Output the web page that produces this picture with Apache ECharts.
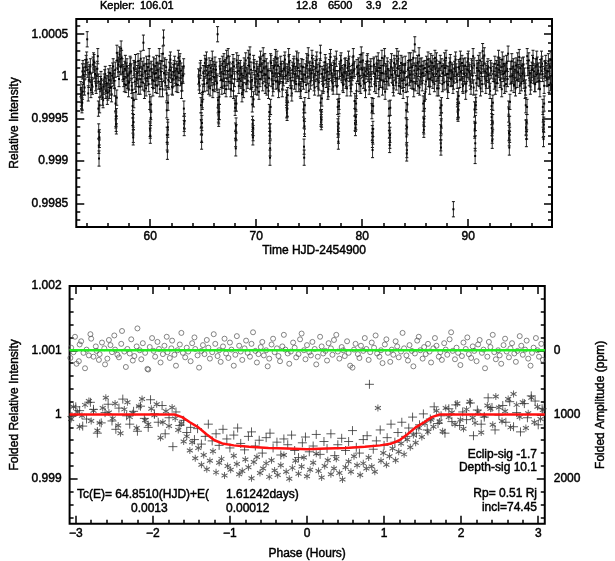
<!DOCTYPE html>
<html><head><meta charset="utf-8">
<script src="https://cdn.jsdelivr.net/npm/echarts@6/dist/echarts.min.js"></script>
<style>html,body{margin:0;padding:0;background:#fff}#c{width:615px;height:561px}</style>
</head><body><div id="c"></div>
<script>
// ---------------- DATA ----------------
const headerLabels = ['Kepler:', '106.01', '12.8', '6500', '3.9', '2.2'];

// Light curve [time HJD-2454900, relative intensity]
const lightCurveSeg1 = [
[53.46,0.99985],[53.56,0.99970],[53.66,1.00010],[53.76,0.99991],[53.86,1.00006],[53.96,1.00016],[54.06,1.00044],[54.16,0.99980],[54.26,1.00003],[54.36,1.00012],
[54.46,0.99995],[54.56,0.99988],[54.66,1.00019],[54.76,1.00007],[54.86,0.99992],[54.96,1.00001],[55.06,1.00024],[55.16,0.99918],[55.26,0.99985],[55.36,0.99997],
[55.46,0.99982],[55.56,0.99972],[55.66,0.99994],[55.76,1.00003],[55.86,0.99989],[55.96,0.99976],[56.06,1.00000],[56.16,0.99983],[56.26,0.99995],[56.36,0.99979],
[56.46,1.00007],[56.56,0.99998],[56.66,0.99986],[56.76,0.99948],[56.86,1.00028],[56.96,1.00009],[57.06,0.99997],[57.16,1.00021],[57.26,1.00033],[57.36,1.00012],
[57.46,1.00003],[57.56,0.99991],[57.66,1.00016],[57.76,1.00007],[57.86,0.99995],[57.96,0.99985],[58.06,1.00004],[58.16,1.00013],[58.26,0.99989],[58.36,0.99951],
[58.46,1.00010],[58.56,0.99994],[58.66,0.99982],[58.76,1.00001],[58.86,1.00018],[58.96,1.00006],[59.06,0.99988],[59.16,0.99997],[59.26,1.00009],[59.36,1.00040],
[59.46,0.99983],[59.56,0.99998],[59.66,1.00015],[59.76,1.00003],[59.86,0.99991],[59.96,1.00007],[60.06,0.99958],[60.16,1.00000],[60.26,0.99986],[60.36,0.99995],
[60.46,1.00012],[60.56,1.00004],[60.66,0.99989],[60.76,1.00006],[60.86,1.00024],[60.96,1.00010],[61.06,0.99997],[61.16,0.99985],[61.26,1.00046],[61.36,1.00013],
[61.46,0.99998],[61.56,0.99980],[61.66,0.99937],[61.76,0.99994],[61.86,1.00016],[61.96,1.00007],[62.06,0.99988],[62.16,0.99997],[62.26,1.00010],[62.36,1.00001],
[62.46,0.99991],[62.56,1.00006],[62.66,1.00022],[62.76,1.00015],[62.86,0.99998],[62.96,0.99983],[63.06,1.00003],[63.16,1.00012]
];
const lightCurveSeg1b = [
[53.51,0.99974],[53.61,1.00006],[53.71,1.00002],[53.81,0.99987],[53.91,1.00011],[54.01,1.00020],[54.11,1.00008],[54.21,0.99996],[54.31,1.00005],[54.41,0.99984],
[54.51,0.99990],[54.61,1.00014],[54.71,1.00017],[54.81,1.00003],[54.91,0.99989],[55.01,1.00009],[55.11,0.99994],[55.21,0.99925],[55.31,0.99991],[55.41,0.99986],
[55.51,0.99975],[55.61,0.99988],[55.71,0.99999],[55.81,0.99983],[55.91,0.99992],[56.01,0.99981],[56.11,0.99996],[56.21,1.00004],[56.31,0.99987],[56.41,1.00001],
[56.51,1.00012],[56.61,0.99995],[56.71,1.00008],[56.81,0.99941],[56.91,1.00019],[57.01,1.00014],[57.11,1.00026],[57.21,1.00011],[57.31,1.00022],[57.41,1.00005],
[57.51,0.99997],[57.61,1.00009],[57.71,0.99990],[57.81,1.00012],[57.91,1.00001],[58.01,0.99993],[58.11,1.00015],[58.21,1.00006],[58.31,0.99984],[58.41,0.99931],
[58.51,1.00008],[58.61,1.00017],[58.71,0.99997],[58.81,1.00004],[58.91,0.99988],[59.01,1.00010],[59.11,1.00021],[59.21,1.00002],[59.31,0.99993],[59.41,1.00013],
[59.51,1.00006],[59.61,0.99986],[59.71,0.99998],[59.81,1.00011],[59.91,1.00024],[60.01,0.99936],[60.11,1.00009],[60.21,0.99996],[60.31,1.00014],[60.41,1.00003],
[60.51,0.99990],[60.61,1.00016],[60.71,1.00008],[60.81,0.99999],[60.91,0.99985],[61.01,1.00006],[61.11,1.00018],[61.21,1.00027],[61.31,1.00004],[61.41,0.99993],
[61.51,1.00011],[61.61,0.99922],[61.71,0.99996],[61.81,1.00008],[61.91,1.00020],[62.01,1.00002],[62.11,0.99987],[62.21,1.00005],[62.31,1.00015],[62.41,0.99998],
[62.51,1.00009],[62.61,0.99990],[62.71,1.00004],[62.81,1.00018],[62.91,1.00007],[63.01,0.99992],[63.11,1.00001],[63.21,0.99944]
];
const lightCurveSeg2 = [
[64.56,1.00000],[64.66,0.99989],[64.76,1.00010],[64.86,0.99931],[64.96,0.99982],[65.06,0.99997],[65.16,1.00016],[65.26,1.00007],[65.36,0.99992],[65.46,1.00004],
[65.56,1.00013],[65.66,0.99986],[65.76,0.99998],[65.86,1.00021],[65.96,1.00009],[66.06,0.99991],[66.16,1.00003],[66.26,0.99994],[66.36,1.00050],[66.46,0.99953],
[66.56,1.00012],[66.66,1.00004],[66.76,0.99988],[66.86,0.99995],[66.96,1.00018],[67.06,1.00007],[67.16,0.99985],[67.26,0.99998],[67.36,1.00024],[67.46,1.00015],
[67.56,1.00001],[67.66,0.99992],[67.76,1.00006],[67.86,0.99983],[67.96,0.99997],[68.06,0.99926],[68.16,1.00019],[68.26,1.00003],[68.36,0.99989],[68.46,1.00007],
[68.56,0.99995],[68.66,0.99979],[68.76,1.00001],[68.86,1.00013],[68.96,1.00006],[69.06,0.99991],[69.16,1.00000],[69.26,1.00022],[69.36,1.00012],[69.46,0.99994],
[69.56,0.99985],[69.66,0.99940],[69.76,1.00016],[69.86,0.99998],[69.96,0.99988],[70.06,1.00009],[70.16,1.00003],[70.26,0.99982],[70.36,0.99997],[70.46,1.00015],
[70.56,1.00007],[70.66,1.00025],[70.76,1.00003],[70.86,0.99989],[70.96,1.00012],[71.06,1.00000],[71.16,0.99983],[71.26,0.99944],[71.36,1.00018],[71.46,0.99997],
[71.56,0.99986],[71.66,1.00010],[71.76,1.00004],[71.86,0.99994],[71.96,1.00021],[72.06,1.00013],[72.16,0.99991],[72.26,1.00001],[72.36,1.00009],[72.46,0.99985],
[72.56,0.99998],[72.66,1.00016],[72.76,1.00006],[72.86,0.99972],[72.96,1.00003],[73.06,1.00024],[73.16,1.00010],[73.26,0.99995],[73.36,0.99980],[73.46,1.00004],
[73.56,1.00015],[73.66,1.00001],[73.76,0.99991],[73.86,1.00007],[73.96,1.00019],[74.06,0.99998],[74.16,0.99985],[74.26,1.00012],[74.36,1.00003],[74.46,0.99994],
[74.56,0.99938],[74.66,1.00006],[74.76,1.00018],[74.86,1.00000],[74.96,0.99983],[75.06,1.00009],[75.16,0.99998],[75.26,1.00022],[75.36,1.00012],[75.46,0.99992],
[75.56,1.00003],[75.66,1.00015],[75.76,0.99997],[75.86,0.99986],[75.96,1.00007],[76.06,1.00028],[76.16,0.99952],[76.26,1.00000],[76.36,0.99991],[76.46,1.00004],
[76.56,1.00013],[76.66,1.00001],[76.76,0.99982],[76.86,0.99997],[76.96,1.00018],[77.06,1.00007],[77.16,0.99994],[77.26,0.99988],[77.36,1.00010],[77.46,1.00003],
[77.56,1.00021],[77.66,0.99998],[77.76,0.99930],[77.86,1.00006],[77.96,1.00016],[78.06,1.00004],[78.16,0.99992],[78.26,1.00000],[78.36,1.00012],[78.46,0.99995],
[78.56,0.99986],[78.66,1.00007],[78.76,1.00015],[78.86,0.99998],[78.96,0.99991],[79.06,1.00004],[79.16,1.00024],[79.26,1.00009],[79.36,0.99944],[79.46,0.99983],
[79.56,1.00003],[79.66,1.00013],[79.76,1.00001],[79.86,0.99989],[79.96,1.00010],[80.06,1.00019],[80.16,1.00000],[80.26,0.99992],[80.36,1.00006],[80.46,1.00016],
[80.56,1.00003],[80.66,0.99988],[80.76,1.00009],[80.86,0.99997],[80.96,0.99925],[81.06,1.00012],[81.16,0.99991],[81.26,1.00001],[81.36,1.00015],[81.46,1.00006],
[81.56,0.99985],[81.66,0.99998],[81.76,1.00010],[81.86,1.00022],[81.96,1.00004],[82.06,0.99994],[82.16,0.99982],[82.26,1.00003],[82.36,1.00013],[82.46,1.00000],
[82.56,0.99945],[82.66,1.00007],[82.76,1.00018],[82.86,1.00001],[82.96,0.99986],[83.06,1.00012],[83.16,0.99998],[83.26,1.00024],[83.36,1.00009],[83.46,0.99989],
[83.56,1.00004],[83.66,1.00016],[83.76,0.99995],[83.86,0.99983],[83.96,1.00006],[84.06,1.00015],[84.16,0.99942],[84.26,0.99991],[84.36,1.00010],[84.46,0.99998],
[84.56,1.00019],[84.66,1.00006],[84.76,0.99994],[84.86,0.99985],[84.96,1.00038],[85.06,1.00013],[85.16,1.00000],[85.26,0.99989],[85.36,1.00025],[85.46,1.00012],
[85.56,1.00003],[85.66,0.99992],[85.76,1.00009],[85.86,0.99962],[85.96,0.99982],[86.06,1.00015],[86.16,1.00007],[86.26,0.99997],[86.36,0.99988],[86.46,1.00018],
[86.56,1.00004],[86.66,0.99995],[86.76,1.00012],[86.86,1.00022],[86.96,1.00003],[87.06,0.99986],[87.16,0.99998],[87.26,1.00009],[87.36,1.00016],[87.46,0.99948],
[87.56,0.99991],[87.66,1.00006],[87.76,1.00019],[87.86,1.00010],[87.96,0.99994],[88.06,0.99983],[88.16,1.00003],[88.26,1.00013],[88.36,0.99997],[88.46,1.00007],
[88.56,0.99989],[88.66,1.00001],[88.76,1.00015],[88.86,1.00006],[88.96,0.99995],[89.06,0.99960],[89.16,1.00009],[89.26,1.00021],[89.36,1.00004],[89.46,0.99991],
[89.56,1.00012],[89.66,1.00000],[89.76,0.99982],[89.86,1.00003],[89.96,1.00018],[90.06,1.00007],[90.16,0.99998],[90.26,0.99988],[90.36,1.00010],[90.46,1.00024],
[90.56,1.00013],[90.66,0.99921],[90.76,0.99992],[90.86,1.00006],[90.96,1.00016],[91.06,0.99997],[91.16,0.99986],[91.26,1.00009],[91.36,1.00030],[91.46,1.00015],
[91.56,1.00000],[91.66,0.99989],[91.76,1.00004],[91.86,1.00012],[91.96,0.99995],[92.06,0.99983],[92.16,1.00007],[92.26,0.99930],[92.36,1.00003],[92.46,0.99994],
[92.56,0.99988],[92.66,1.00010],[92.76,1.00001],[92.86,1.00022],[92.96,1.00013],[93.06,0.99998],[93.16,0.99985],[93.26,1.00006],[93.36,1.00015],[93.46,1.00004],
[93.56,0.99991],[93.66,1.00009],[93.76,1.00027],[93.86,0.99927],[93.96,1.00000],[94.06,0.99992],[94.16,1.00003],[94.26,1.00012],[94.36,0.99997],[94.46,0.99986],
[94.56,1.00007],[94.66,1.00019],[94.76,1.00003],[94.86,0.99989],[94.96,1.00000],[95.06,1.00013],[95.16,1.00006],[95.26,0.99995],[95.36,0.99983],[95.46,0.99939],
[95.56,1.00024],[95.66,1.00010],[95.76,0.99998],[95.86,0.99988],[95.96,1.00004],[96.06,1.00016],[96.16,1.00001],[96.26,0.99991],[96.36,1.00012],[96.46,1.00021],
[96.56,1.00003],[96.66,0.99994],[96.76,0.99985],[96.86,1.00007],[96.96,1.00015],[97.06,0.99949],[97.16,0.99989],[97.26,1.00010],[97.36,1.00004],[97.46,0.99997],
[97.56,1.00018],[97.66,1.00006],[97.76,0.99992],[97.86,1.00001]
];
const lightCurveSeg2b = [
[64.61,0.99993],[64.71,1.00007],[64.81,0.99948],[64.91,0.99972],[65.01,1.00004],[65.11,0.99991],[65.21,1.00012],[65.31,1.00020],[65.41,1.00002],[65.51,0.99988],
[65.61,0.99997],[65.71,1.00010],[65.81,1.00005],[65.91,0.99984],[66.01,0.99999],[66.11,1.00014],[66.21,1.00008],[66.31,0.99992],[66.41,0.99966],[66.51,0.99958],
[66.61,1.00009],[66.71,0.99996],[66.81,1.00015],[66.91,1.00003],[67.01,0.99989],[67.11,1.00011],[67.21,1.00022],[67.31,1.00006],[67.41,0.99994],[67.51,1.00008],
[67.61,0.99985],[67.71,1.00001],[67.81,1.00017],[67.91,1.00012],[68.01,0.99968],[68.11,0.99934],[68.21,1.00005],[68.31,1.00016],[68.41,0.99997],[68.51,1.00010],
[68.61,1.00003],[68.71,0.99990],[68.81,0.99984],[68.91,1.00007],[69.01,1.00019],[69.11,1.00002],[69.21,0.99995],[69.31,1.00013],[69.41,1.00026],[69.51,1.00008],
[69.61,0.99996],[69.71,0.99933],[69.81,1.00011],[69.91,0.99993],[70.01,1.00006],[70.11,0.99987],[70.21,1.00001],[70.31,1.00014],[70.41,1.00021],[70.51,1.00005],
[70.61,0.99992],[70.71,1.00010],[70.81,1.00018],[70.91,1.00002],[71.01,0.99987],[71.11,1.00007],[71.21,0.99998],[71.31,0.99915],[71.41,1.00016],[71.51,1.00004],
[71.61,0.99991],[71.71,1.00012],[71.81,1.00023],[71.91,1.00008],[72.01,0.99995],[72.11,0.99984],[72.21,1.00003],[72.31,1.00015],[72.41,1.00006],[72.51,0.99993],
[72.61,1.00009],[72.71,1.00020],[72.81,1.00001],[72.91,0.99961],[73.01,1.00005],[73.11,1.00017],[73.21,0.99998],[73.31,0.99986],[73.41,1.00008],[73.51,1.00012],
[73.61,0.99994],[73.71,1.00003],[73.81,1.00021],[73.91,1.00010],[74.01,0.99991],[74.11,1.00006],[74.21,0.99983],[74.31,0.99997],[74.41,1.00011],[74.51,0.99917],
[74.61,1.00002],[74.71,0.99990],[74.81,1.00013],[74.91,1.00025],[75.01,1.00007],[75.11,0.99994],[75.21,1.00004],[75.31,1.00016],[75.41,0.99999],[75.51,0.99987],
[75.61,1.00010],[75.71,1.00020],[75.81,1.00005],[75.91,0.99993],[76.01,1.00012],[76.11,0.99950],[76.21,1.00003],[76.31,0.99989],[76.41,1.00008],[76.51,1.00017],
[76.61,0.99996],[76.71,1.00006],[76.81,0.99985],[76.91,1.00011],[77.01,1.00023],[77.11,1.00004],[77.21,0.99992],[77.31,1.00008],[77.41,1.00015],[77.51,0.99998],
[77.61,0.99988],[77.71,0.99941],[77.81,0.99965],[77.91,1.00009],[78.01,1.00019],[78.11,1.00002],[78.21,0.99990],[78.31,1.00005],[78.41,1.00013],[78.51,0.99997],
[78.61,1.00010],[78.71,1.00021],[78.81,1.00003],[78.91,0.99986],[79.01,0.99999],[79.11,1.00014],[79.21,1.00007],[79.31,0.99962],[79.41,0.99946],[79.51,1.00011],
[79.61,1.00004],[79.71,0.99991],[79.81,1.00017],[79.91,1.00026],[80.01,1.00008],[80.11,0.99995],[80.21,1.00002],[80.31,0.99984],[80.41,1.00009],[80.51,1.00018],
[80.61,1.00005],[80.71,0.99993],[80.81,1.00012],[80.91,0.99966],[81.01,0.99929],[81.11,1.00014],[81.21,1.00003],[81.31,0.99989],[81.41,1.00007],[81.51,1.00019],
[81.61,1.00010],[81.71,0.99996],[81.81,1.00004],[81.91,0.99987],[82.01,1.00013],[82.11,1.00024],[82.21,1.00006],[82.31,0.99994],[82.41,1.00009],[82.51,0.99998],
[82.61,0.99924],[82.71,1.00011],[82.81,1.00002],[82.91,0.99990],[83.01,1.00016],[83.11,1.00005],[83.21,0.99993],[83.31,1.00010],[83.41,1.00021],[83.51,1.00001],
[83.61,0.99988],[83.71,1.00007],[83.81,1.00014],[83.91,0.99996],[84.01,1.00004],[84.11,0.99990],[84.21,0.99913],[84.31,1.00008],[84.41,1.00019],[84.51,1.00002],
[84.61,0.99995],[84.71,1.00011],[84.81,1.00022],[84.91,1.00007],[85.01,0.99992],[85.11,1.00003],[85.21,1.00016],[85.31,1.00009],[85.41,0.99987],[85.51,0.99999],
[85.61,1.00013],[85.71,1.00004],[85.81,0.99941],[85.91,1.00010],[86.01,0.99994],[86.11,1.00005],[86.21,1.00020],[86.31,1.00012],[86.41,0.99997],[86.51,1.00008],
[86.61,1.00016],[86.71,1.00002],[86.81,0.99991],[86.91,1.00009],[87.01,1.00019],[87.11,1.00006],[87.21,0.99986],[87.31,1.00001],[87.41,0.99921],[87.51,1.00012],
[87.61,1.00004],[87.71,0.99993],[87.81,1.00010],[87.91,1.00022],[88.01,1.00003],[88.11,0.99990],[88.21,1.00007],[88.31,1.00017],[88.41,0.99998],[88.51,1.00005],
[88.61,0.99994],[88.71,1.00009],[88.81,1.00020],[88.91,1.00002],[89.01,0.99960],[89.11,1.00011],[89.21,0.99996],[89.31,1.00006],[89.41,1.00016],[89.51,0.99989],
[89.61,1.00003],[89.71,1.00013],[89.81,0.99992],[89.91,1.00008],[90.01,1.00021],[90.11,1.00005],[90.21,0.99994],[90.31,1.00012],[90.41,1.00001],[90.51,0.99987],
[90.61,0.99936],[90.71,0.99970],[90.81,1.00010],[90.91,0.99998],[91.01,1.00007],[91.11,1.00019],[91.21,1.00004],[91.31,0.99991],[91.41,1.00013],[91.51,1.00025],
[91.61,1.00006],[91.71,0.99995],[91.81,1.00009],[91.91,1.00002],[92.01,0.99988],[92.11,1.00010],[92.21,0.99952],[92.31,0.99946],[92.41,1.00006],[92.51,1.00015],
[92.61,1.00001],[92.71,0.99992],[92.81,1.00014],[92.91,1.00008],[93.01,0.99996],[93.11,1.00011],[93.21,1.00020],[93.31,1.00003],[93.41,0.99989],[93.51,1.00006],
[93.61,1.00016],[93.71,0.99997],[93.81,0.99955],[93.91,0.99931],[94.01,1.00009],[94.11,1.00018],[94.21,1.00001],[94.31,0.99990],[94.41,1.00008],[94.51,1.00013],
[94.61,0.99996],[94.71,1.00005],[94.81,1.00023],[94.91,1.00010],[95.01,0.99992],[95.11,1.00003],[95.21,1.00014],[95.31,1.00001],[95.41,0.99987],[95.51,0.99935],
[95.61,1.00010],[95.71,1.00019],[95.81,1.00004],[95.91,0.99993],[96.01,1.00008],[96.11,1.00022],[96.21,1.00006],[96.31,0.99991],[96.41,1.00002],[96.51,1.00014],
[96.61,1.00007],[96.71,0.99995],[96.81,1.00011],[96.91,1.00021],[97.01,1.00003],[97.11,0.99938],[97.21,1.00009],[97.31,1.00016],[97.41,0.99998],[97.51,1.00006],
[97.61,0.99990],[97.71,1.00012],[97.81,1.00020]
];
// In-transit points of the light curve
const transitPoints = [
[53.504,0.99978],[53.534,0.99971],[53.564,0.99966],[53.594,0.99969],[53.624,0.99982],
[55.116,0.99962],[55.146,0.99935],[55.176,0.99903],[55.206,0.99928],[55.236,0.99966],
[56.729,0.99968],[56.759,0.99950],[56.789,0.99944],[56.819,0.99953],[56.849,0.99975],
[58.341,0.99965],[58.371,0.99942],[58.401,0.99928],[58.431,0.99946],[58.461,0.99972],
[59.954,0.99970],[59.984,0.99938],[60.014,0.99930],[60.044,0.99951],[60.074,0.99967],
[61.566,0.99960],[61.596,0.99931],[61.626,0.99911],[61.656,0.99940],[61.686,0.99969],
[63.178,0.99962],[63.208,0.99939],[63.238,0.99947],
[64.791,0.99966],[64.821,0.99940],[64.851,0.99923],[64.881,0.99945],[64.911,0.99970],
[66.403,0.99972],[66.433,0.99955],[66.463,0.99950],[66.493,0.99958],[66.523,0.99976],
[68.015,0.99963],[68.045,0.99936],[68.075,0.99915],[68.105,0.99942],[68.135,0.99968],
[69.628,0.99967],[69.658,0.99944],[69.688,0.99928],[69.718,0.99939],[69.748,0.99973],
[71.240,0.99958],[71.270,0.99930],[71.300,0.99904],[71.330,0.99935],[71.360,0.99964],
[72.853,0.99975],[72.883,0.99960],[72.913,0.99957],[72.943,0.99962],[72.973,0.99978],
[74.465,0.99961],[74.495,0.99948],[74.525,0.99904],[74.555,0.99941],[74.585,0.99966],
[76.078,0.99969],[76.108,0.99952],[76.138,0.99946],[76.168,0.99949],[76.198,0.99974],
[77.690,0.99964],[77.720,0.99937],[77.750,0.99923],[77.780,0.99944],[77.810,0.99970],
[79.302,0.99971],[79.332,0.99945],[79.362,0.99939],[79.392,0.99952],[79.422,0.99968],
[80.915,0.99959],[80.945,0.99933],[80.975,0.99913],[81.005,0.99938],[81.035,0.99965],
[82.527,0.99962],[82.557,0.99936],[82.587,0.99919],[82.617,0.99931],[82.647,0.99963],
[84.140,0.99960],[84.170,0.99929],[84.200,0.99909],[84.230,0.99940],[84.260,0.99967],
[85.752,0.99968],[85.782,0.99943],[85.812,0.99937],[85.842,0.99950],[85.872,0.99971],
[87.365,0.99963],[87.395,0.99934],[87.425,0.99916],[87.455,0.99941],[87.485,0.99966],
[88.977,0.99973],[89.007,0.99958],[89.037,0.99956],[89.067,0.99961],[89.097,0.99977],
[90.590,0.99961],[90.620,0.99938],[90.650,0.99906],[90.680,0.99945],[90.710,0.99966],
[92.202,0.99965],[92.232,0.99939],[92.262,0.99924],[92.292,0.99935],[92.322,0.99969],
[93.814,0.99962],[93.844,0.99933],[93.874,0.99916],[93.904,0.99944],[93.934,0.99970],
[95.427,0.99966],[95.457,0.99940],[95.487,0.99926],[95.517,0.99946],[95.547,0.99964],
[97.039,0.99964],[97.069,0.99937],[97.099,0.99926],[97.129,0.99943],[97.159,0.99968]
];
const outlierPoints = [[88.60,0.99843]];
const errorBarHalf = 0.00009;

// Folded curves [phase hours, folded relative intensity]
const secondaryFold = [
[-3.07,1.00088],[-3.06,1.00104],[-3.03,1.00097],[-3.01,1.00121],[-2.99,1.00079],[-2.96,1.00083],[-2.95,1.00109],[-2.93,1.00114],[-2.90,1.00096],[-2.88,1.00072],
[-2.86,1.00101],[-2.83,1.00092],[-2.81,1.00125],[-2.80,1.00118],[-2.77,1.00090],[-2.74,1.00106],[-2.73,1.00099],[-2.70,1.00085],[-2.69,1.00094],[-2.66,1.00112],
[-2.63,1.00103],[-2.62,1.00078],[-2.59,1.00087],[-2.57,1.00116],[-2.55,1.00108],[-2.53,1.00097],[-2.50,1.00123],[-2.49,1.00101],[-2.46,1.00093],[-2.44,1.00089],
[-2.41,1.00110],[-2.40,1.00130],[-2.37,1.00098],[-2.35,1.00074],[-2.33,1.00102],[-2.30,1.00095],[-2.28,1.00117],[-2.26,1.00084],[-2.24,1.00091],[-2.21,1.00106],
[-2.20,1.00134],[-2.17,1.00100],[-2.15,1.00086],[-2.13,1.00111],[-2.10,1.00096],[-2.07,1.00071],[-2.06,1.00070],[-2.04,1.00105],[-2.01,1.00119],[-1.99,1.00099],
[-1.97,1.00090],[-1.94,1.00113],[-1.92,1.00102],[-1.90,1.00081],[-1.87,1.00094],[-1.85,1.00107],[-1.82,1.00121],[-1.81,1.00097],[-1.78,1.00088],[-1.76,1.00103],
[-1.75,1.00115],[-1.72,1.00093],[-1.70,1.00076],[-1.68,1.00100],[-1.65,1.00109],[-1.63,1.00127],[-1.61,1.00096],[-1.58,1.00089],[-1.56,1.00104],[-1.54,1.00098],
[-1.51,1.00083],[-1.49,1.00111],[-1.46,1.00120],[-1.45,1.00102],[-1.42,1.00092],[-1.40,1.00073],[-1.37,1.00099],[-1.35,1.00108],[-1.33,1.00094],[-1.30,1.00116],
[-1.28,1.00104],[-1.26,1.00087],[-1.23,1.00097],[-1.21,1.00125],[-1.19,1.00110],[-1.16,1.00091],[-1.14,1.00100],[-1.12,1.00082],[-1.09,1.00106],[-1.07,1.00118],
[-1.05,1.00095],[-1.02,1.00088],[-1.00,1.00112],[-0.98,1.00101],[-0.95,1.00076],[-0.93,1.00093],[-0.91,1.00122],[-0.88,1.00107],[-0.86,1.00098],[-0.84,1.00085],
[-0.81,1.00103],[-0.79,1.00115],[-0.77,1.00096],[-0.74,1.00090],[-0.72,1.00110],[-0.70,1.00128],[-0.67,1.00099],[-0.65,1.00081],[-0.63,1.00094],[-0.60,1.00105],
[-0.58,1.00113],[-0.56,1.00092],[-0.53,1.00100],[-0.51,1.00075],[-0.49,1.00087],[-0.46,1.00109],[-0.44,1.00118],[-0.42,1.00097],[-0.39,1.00103],[-0.37,1.00091],
[-0.35,1.00083],[-0.32,1.00106],[-0.30,1.00124],[-0.28,1.00101],[-0.25,1.00095],[-0.23,1.00079],[-0.21,1.00098],[-0.18,1.00112],[-0.16,1.00104],[-0.14,1.00089],
[-0.11,1.00094],[-0.09,1.00117],[-0.07,1.00126],[-0.04,1.00100],[-0.02,1.00086],[0.00,1.00108],[0.03,1.00097],[0.05,1.00092],[0.07,1.00113],[0.10,1.00102],
[0.12,1.00078],[0.14,1.00090],[0.17,1.00121],[0.19,1.00106],[0.21,1.00095],[0.24,1.00099],[0.26,1.00084],[0.28,1.00111],[0.31,1.00103],[0.33,1.00093],
[0.35,1.00116],[0.38,1.00124],[0.40,1.00098],[0.42,1.00087],[0.45,1.00105],[0.47,1.00100],[0.49,1.00091],[0.52,1.00114],[0.54,1.00096],[0.56,1.00076],
[0.59,1.00073],[0.61,1.00101],[0.63,1.00110],[0.66,1.00094],[0.68,1.00088],[0.70,1.00107],[0.73,1.00099],[0.75,1.00119],[0.77,1.00102],[0.80,1.00085],
[0.82,1.00097],[0.84,1.00112],[0.87,1.00104],[0.89,1.00123],[0.91,1.00095],[0.94,1.00090],[0.96,1.00100],[0.98,1.00080],[1.01,1.00109],[1.03,1.00117],
[1.05,1.00096],[1.08,1.00082],[1.10,1.00101],[1.12,1.00093],[1.15,1.00114],[1.17,1.00106],[1.19,1.00089],[1.22,1.00098],[1.24,1.00127],[1.26,1.00103],
[1.29,1.00092],[1.31,1.00084],[1.33,1.00108],[1.36,1.00099],[1.38,1.00075],[1.40,1.00095],[1.43,1.00115],[1.45,1.00121],[1.47,1.00100],[1.50,1.00087],
[1.52,1.00105],[1.54,1.00094],[1.57,1.00110],[1.59,1.00098],[1.61,1.00081],[1.64,1.00103],[1.66,1.00119],[1.68,1.00107],[1.71,1.00090],[1.73,1.00097],
[1.75,1.00085],[1.78,1.00111],[1.80,1.00101],[1.82,1.00093],[1.85,1.00117],[1.87,1.00128],[1.89,1.00099],[1.92,1.00086],[1.94,1.00104],[1.96,1.00096],
[1.99,1.00077],[2.01,1.00091],[2.03,1.00112],[2.06,1.00102],[2.08,1.00120],[2.10,1.00094],[2.13,1.00088],[2.15,1.00106],[2.17,1.00099],[2.20,1.00083],
[2.22,1.00109],[2.24,1.00116],[2.27,1.00096],[2.29,1.00101],[2.31,1.00072],[2.34,1.00090],[2.36,1.00113],[2.38,1.00105],[2.41,1.00124],[2.43,1.00097],
[2.45,1.00086],[2.48,1.00100],[2.50,1.00092],[2.52,1.00079],[2.55,1.00108],[2.57,1.00118],[2.59,1.00098],[2.62,1.00089],[2.64,1.00103],[2.66,1.00111],
[2.69,1.00095],[2.71,1.00082],[2.73,1.00099],[2.76,1.00122],[2.78,1.00107],[2.80,1.00093],[2.83,1.00101],[2.85,1.00115],[2.87,1.00087],[2.90,1.00076],
[2.92,1.00096],[2.94,1.00104],[2.97,1.00119],[2.99,1.00100],[3.01,1.00090],[3.04,1.00110],[3.06,1.00085]
];
const oddFold = [
[-3.06,0.99993],[-3.03,1.00012],[-2.98,1.00004],[-2.95,0.99981],[-2.92,0.99998],[-2.88,1.00015],[-2.83,1.00021],[-2.80,0.99990],[-2.77,1.00006],[-2.72,0.99975],
[-2.69,0.99987],[-2.65,1.00010],[-2.61,1.00026],[-2.57,1.00003],[-2.52,0.99994],[-2.49,1.00017],[-2.45,0.99983],[-2.42,0.99971],[-2.37,1.00008],[-2.33,1.00019],
[-2.30,0.99996],[-2.26,1.00002],[-2.21,0.99979],[-2.18,1.00013],[-2.14,1.00024],[-2.10,0.99991],[-2.06,0.99985],[-2.02,1.00009],[-1.98,0.99999],[-1.95,1.00016],
[-1.90,0.99964],[-1.87,0.99988],[-1.83,1.00005],[-1.79,0.99982],[-1.75,1.00011],[-1.71,0.99994],[-1.67,0.99976],[-1.63,0.99986],[-1.60,0.99958],[-1.56,0.99966],
[-1.52,0.99944],[-1.49,0.99957],[-1.45,0.99932],[-1.41,0.99948],[-1.37,0.99922],[-1.34,0.99937],[-1.30,0.99915],[-1.26,0.99928],[-1.22,0.99943],[-1.18,0.99910],
[-1.14,0.99925],[-1.11,0.99931],[-1.07,0.99905],[-1.03,0.99920],[-0.99,0.99914],[-0.95,0.99936],[-0.91,0.99923],[-0.88,0.99907],[-0.84,0.99912],[-0.80,0.99930],
[-0.76,0.99918],[-0.72,0.99901],[-0.69,0.99926],[-0.65,0.99934],[-0.61,0.99909],[-0.57,0.99916],[-0.53,0.99924],[-0.49,0.99903],[-0.46,0.99929],[-0.42,0.99913],
[-0.38,0.99906],[-0.34,0.99921],[-0.30,0.99937],[-0.27,0.99911],[-0.23,0.99900],[-0.19,0.99917],[-0.15,0.99928],[-0.11,0.99908],[-0.07,0.99919],[-0.04,0.99933],
[0.00,0.99904],[0.04,0.99914],[0.08,0.99925],[0.12,0.99939],[0.15,0.99912],[0.19,0.99902],[0.23,0.99920],[0.27,0.99929],[0.31,0.99907],[0.35,0.99916],
[0.38,0.99931],[0.42,0.99909],[0.46,0.99899],[0.50,0.99918],[0.54,0.99927],[0.57,0.99911],[0.61,0.99935],[0.65,0.99921],[0.69,0.99906],[0.73,0.99924],
[0.77,0.99916],[0.80,0.99933],[0.84,0.99919],[0.88,0.99911],[0.92,1.00010],[0.96,0.99928],[0.99,0.99940],[1.03,0.99922],[1.07,0.99935],[1.11,0.99947],
[1.15,0.99929],[1.19,0.99942],[1.22,0.99955],[1.26,0.99938],[1.30,0.99961],[1.34,0.99949],[1.38,0.99968],[1.41,0.99956],[1.45,0.99979],[1.49,0.99965],
[1.53,0.99986],[1.57,0.99973],[1.61,0.99992],[1.64,0.99981],[1.68,1.00006],[1.72,0.99989],[1.76,0.99974],[1.80,1.00010],[1.84,0.99996],[1.88,1.00003],
[1.92,0.99985],[1.95,1.00017],[1.99,0.99992],[2.03,0.99978],[2.07,1.00008],[2.11,1.00020],[2.15,0.99995],[2.18,0.99987],[2.22,1.00004],[2.26,0.99972],
[2.30,0.99998],[2.34,1.00014],[2.38,1.00009],[2.41,0.99984],[2.45,1.00028],[2.49,1.00011],[2.53,0.99990],[2.57,1.00005],[2.61,1.00024],[2.64,0.99980],
[2.68,1.00032],[2.72,1.00015],[2.76,0.99996],[2.80,1.00019],[2.84,0.99979],[2.87,1.00002],[2.91,1.00026],[2.95,0.99988],[2.99,1.00012],[3.03,0.99993],
[3.06,1.00007]
];
const evenFold = [
[-3.05,0.99997],[-3.00,1.00012],[-2.95,1.00006],[-2.91,0.99982],[-2.86,0.99993],[-2.81,1.00019],[-2.77,1.00008],[-2.72,0.99971],[-2.67,0.99987],[-2.62,1.00003],
[-2.58,1.00016],[-2.53,0.99990],[-2.48,0.99977],[-2.44,1.00010],[-2.39,1.00024],[-2.34,0.99998],[-2.30,0.99985],[-2.25,1.00005],[-2.20,0.99974],[-2.16,1.00013],
[-2.11,0.99994],[-2.06,0.99980],[-2.03,1.00023],[-1.98,1.00001],[-1.93,0.99988],[-1.88,1.00014],[-1.84,0.99970],[-1.79,0.99995],[-1.74,0.99950],[-1.70,1.00004],
[-1.65,0.99983],[-1.60,0.99991],[-1.56,0.99972],[-1.51,0.99980],[-1.46,0.99961],[-1.42,0.99978],[-1.37,0.99954],[-1.32,0.99966],[-1.28,0.99985],[-1.23,0.99959],
[-1.18,0.99970],[-1.14,0.99952],[-1.09,0.99977],[-1.04,0.99962],[-1.00,0.99948],[-0.95,0.99968],[-0.90,0.99979],[-0.86,0.99955],[-0.81,0.99945],[-0.76,0.99966],
[-0.72,0.99973],[-0.67,0.99951],[-0.62,0.99960],[-0.58,0.99940],[-0.53,0.99964],[-0.48,0.99971],[-0.44,0.99948],[-0.39,0.99957],[-0.34,0.99937],[-0.30,0.99962],
[-0.25,0.99953],[-0.20,0.99968],[-0.16,0.99944],[-0.11,0.99933],[-0.06,0.99956],[-0.02,0.99965],[0.03,0.99942],[0.08,0.99951],[0.12,0.99969],[0.17,0.99938],
[0.22,0.99958],[0.26,0.99947],[0.31,0.99970],[0.36,0.99936],[0.40,0.99953],[0.45,0.99963],[0.50,0.99944],[0.54,0.99958],[0.59,0.99975],[0.64,0.99949],
[0.68,0.99940],[0.73,0.99961],[0.78,0.99967],[0.81,1.00047],[0.86,0.99946],[0.90,0.99959],[0.95,0.99976],[1.00,0.99952],[1.04,0.99964],[1.09,0.99985],
[1.14,0.99957],[1.18,0.99972],[1.23,0.99988],[1.28,0.99966],[1.32,0.99979],[1.37,0.99996],[1.42,0.99971],[1.46,0.99984],[1.51,1.00001],[1.56,0.99976],
[1.60,0.99993],[1.65,1.00012],[1.70,0.99986],[1.74,0.99998],[1.79,0.99971],[1.84,1.00009],[1.88,0.99989],[1.93,1.00015],[1.98,0.99983],[2.02,1.00004],
[2.07,0.99992],[2.12,1.00018],[2.16,0.99967],[2.21,1.00007],[2.26,0.99985],[2.30,0.99996],[2.35,1.00026],[2.40,1.00011],[2.44,0.99976],[2.49,0.99999],
[2.54,1.00014],[2.58,0.99988],[2.63,1.00020],[2.68,0.99981],[2.72,1.00003],[2.77,0.99973],[2.82,1.00017],[2.86,0.99995],[2.91,1.00029],[2.96,1.00021],
[3.00,0.99984],[3.05,1.00009]
];
const transitModel = [
[-3.08,1.0],[-1.72,1.0],[-1.62,0.99996],[-1.52,0.99988],[-1.41,0.99980],[-1.30,0.99969],[-1.20,0.99960],[-1.10,0.99955],
[-0.95,0.99952],[-0.75,0.99950],[-0.50,0.99948],[-0.25,0.99947],[0,0.99946],[0.25,0.99947],[0.50,0.99948],[0.75,0.99950],
[0.95,0.99952],[1.10,0.99955],[1.20,0.99960],[1.30,0.99969],[1.41,0.99980],[1.52,0.99988],[1.62,0.99996],[1.72,1.0],[3.085,1.0]
];
const secondaryModel = [[-3.08,1.001],[3.085,1.001]];

// Tick values
const timeTicks = [60,70,80,90];
const timeMinorTicks = [54,56,58,62,64,66,68,72,74,76,78,82,84,86,88,92,94,96];
const intensityTicks = [0.9985,0.999,0.9995,1,1.0005];
const intensityMinorTicks = [0.9983,0.9984,0.9986,0.9987,0.9988,0.9989,0.9991,0.9992,0.9993,0.9994,0.9996,0.9997,0.9998,0.9999,1.0001,1.0002,1.0003,1.0004,1.0006];
const phaseTicks = [-3,-2,-1,0,1,2,3];
const phaseMinorTicks = [-2.8,-2.6,-2.4,-2.2,-1.8,-1.6,-1.4,-1.2,-0.8,-0.6,-0.4,-0.2,0.2,0.4,0.6,0.8,1.2,1.4,1.6,1.8,2.2,2.4,2.6,2.8];
const foldedTicks = [0.999,1,1.001,1.002];
const foldedMinorTicks = [0.9984,0.9986,0.9988,0.9992,0.9994,0.9996,0.9998,1.0002,1.0004,1.0006,1.0008,1.0012,1.0014,1.0016,1.0018];
const ampTicks = [0,1000,2000];
const ampMinorTicks = [-800,-600,-400,-200,200,400,600,800,1200,1400,1600,1800,2200,2400,2600];

const fitLines = ['Tc(E)= 64.8510(HJD)+E(', '1.61242days)', '0.0013', '0.00012'];
const statLines = ['Eclip-sig -1.7', 'Depth-sig 10.1', 'Rp= 0.51 Rj', 'incl=74.45'];

// ---------------- CHART ----------------
const FONT = '"Liberation Sans", Arial, Helvetica, sans-serif';
const TOP = {min: 53.03, max: 97.9, ymin: 0.99822, ymax: 1.00068};
const BOT = {min: -3.08, max: 3.085, ymin: 0.9983, ymax: 1.002, amin: -1000, amax: 2700};
const TB = 0.45; // text outline to thicken glyphs

function tickAxis(gi, pos, min, max, vals, len, inverse) {
  return {
    type: 'value', gridIndex: gi, position: pos, min: min, max: max, inverse: !!inverse, silent: true,
    axisLine: {show: false, onZero: false}, splitLine: {show: false},
    axisTick: {show: true, inside: true, length: len, customValues: vals, lineStyle: {color: '#000', width: 1.5}},
    axisLabel: {show: false}
  };
}
function withLabels(ax, vals, margin, fmt) {
  ax.axisLabel = {show: true, customValues: vals, margin: margin, fontSize: 12, fontFamily: FONT, color: '#000',
    textBorderColor: '#000', textBorderWidth: TB, formatter: fmt};
  return ax;
}
function withName(ax, name, gap, rotate) {
  ax.name = name; ax.nameLocation = 'middle'; ax.nameGap = gap;
  if (rotate != null) ax.nameRotate = rotate;
  ax.nameTextStyle = {fontSize: 12, fontFamily: FONT, color: '#000', textBorderColor: '#000', textBorderWidth: TB};
  return ax;
}
const fmtNum = v => String(parseFloat(Number(v).toFixed(5)));
const fmtMinus = v => (v < 0 ? '\u2212' + Math.abs(v) : String(v));

const MAJ = 8, MIN = 4;
const xAxes = [
  withName(withLabels(tickAxis(0, 'bottom', TOP.min, TOP.max, timeTicks, MAJ), timeTicks, 4, fmtNum), 'Time HJD-2454900', 18),
  tickAxis(0, 'bottom', TOP.min, TOP.max, timeMinorTicks, MIN),
  tickAxis(0, 'top', TOP.min, TOP.max, timeTicks, MAJ),
  tickAxis(0, 'top', TOP.min, TOP.max, timeMinorTicks, MIN),
  withName(withLabels(tickAxis(1, 'bottom', BOT.min, BOT.max, phaseTicks, MAJ), phaseTicks, 4, fmtMinus), 'Phase (Hours)', 24),
  tickAxis(1, 'bottom', BOT.min, BOT.max, phaseMinorTicks, MIN),
  tickAxis(1, 'top', BOT.min, BOT.max, phaseTicks, MAJ),
  tickAxis(1, 'top', BOT.min, BOT.max, phaseMinorTicks, MIN)
];
const yAxes = [
  withName(withLabels(tickAxis(0, 'left', TOP.ymin, TOP.ymax, intensityTicks, MAJ), intensityTicks, 8, fmtNum), 'Relative Intensity', 50, 90),
  tickAxis(0, 'left', TOP.ymin, TOP.ymax, intensityMinorTicks, MIN),
  tickAxis(0, 'right', TOP.ymin, TOP.ymax, intensityTicks, MAJ),
  tickAxis(0, 'right', TOP.ymin, TOP.ymax, intensityMinorTicks, MIN),
  withName(withLabels(tickAxis(1, 'left', BOT.ymin, BOT.ymax, foldedTicks, MAJ), foldedTicks, 8, fmtNum), 'Folded Relative Intensity', 49, 90),
  tickAxis(1, 'left', BOT.ymin, BOT.ymax, foldedMinorTicks, MIN),
  withName(withLabels(tickAxis(1, 'right', BOT.amin, BOT.amax, ampTicks, MAJ, true), ampTicks, 9, fmtNum), 'Folded Amplitude (ppm)', 50, 90),
  tickAxis(1, 'right', BOT.amin, BOT.amax, ampMinorTicks, MIN, true)
];

function errorBarItem(params, api) {
  const t = api.value(0), v = api.value(1);
  const c = api.coord([t, v]);
  const lo = api.coord([t, v - errorBarHalf]);
  const hi = api.coord([t, v + errorBarHalf]);
  return {
    type: 'group',
    children: [
      {type: 'line', shape: {x1: c[0], y1: lo[1], x2: c[0], y2: hi[1]}, style: {stroke: '#2a2a2a', lineWidth: 1}},
      {type: 'line', shape: {x1: c[0] - 1.5, y1: lo[1], x2: c[0] + 1.5, y2: lo[1]}, style: {stroke: '#111', lineWidth: 1}},
      {type: 'line', shape: {x1: c[0] - 1.5, y1: hi[1], x2: c[0] + 1.5, y2: hi[1]}, style: {stroke: '#111', lineWidth: 1}},
      {type: 'rect', shape: {x: c[0] - 1, y: c[1] - 1, width: 2, height: 2}, style: {fill: '#000'}}
    ]
  };
}
function lcSeries(data) {
  return {type: 'custom', xAxisIndex: 0, yAxisIndex: 0, data: data, renderItem: errorBarItem, clip: true, silent: true, encode: {x: 0, y: 1}};
}

const ASTERISK = 'path://M0,-5L0,5M-4.33,-2.5L4.33,2.5M-4.33,2.5L4.33,-2.5';
const PLUS = 'path://M0,-5L0,5M-5,0L5,0';

function txt(s, x, y, align, size) {
  return {type: 'text', x: x, y: y, silent: true, z: 100,
    style: {text: s, fill: '#000', fontSize: size, fontFamily: FONT, stroke: '#000', lineWidth: TB,
      align: align, verticalAlign: 'middle', textAlign: align, textVerticalAlign: 'middle'}};
}

const headerX = [100, 140, 296, 328, 366, 392];
const graphic = headerLabels.map((s, i) => txt(s, headerX[i], 6, 'left', 11));
graphic.push(txt(fitLines[0], 77, 494.5, 'left', 12));
graphic.push(txt(fitLines[1], 226, 494.5, 'left', 12));
graphic.push(txt(fitLines[2], 131, 508.5, 'left', 12));
graphic.push(txt(fitLines[3], 226, 508.5, 'left', 12));
graphic.push(txt(statLines[0], 537, 455, 'right', 12));
graphic.push(txt(statLines[1], 537, 467.5, 'right', 12));
graphic.push(txt(statLines[2], 537, 494, 'right', 12));
graphic.push(txt(statLines[3], 537, 507.5, 'right', 12));

const chart = echarts.init(document.getElementById('c'), null, {renderer: 'canvas'});
chart.setOption({
  animation: false,
  backgroundColor: '#fff',
  grid: [
    {left: 62, top: 19, width: 490, height: 208, show: true, borderColor: '#000', borderWidth: 2, backgroundColor: 'transparent'},
    {left: 62, top: 286, width: 491, height: 238, show: true, borderColor: '#000', borderWidth: 2, backgroundColor: 'transparent'}
  ],
  xAxis: xAxes,
  yAxis: yAxes,
  series: [
    lcSeries(lightCurveSeg1),
    lcSeries(lightCurveSeg1b),
    lcSeries(lightCurveSeg2),
    lcSeries(lightCurveSeg2b),
    lcSeries(transitPoints),
    lcSeries(outlierPoints),
    {type: 'scatter', xAxisIndex: 4, yAxisIndex: 4, data: secondaryFold, symbol: 'circle', symbolSize: 5, silent: true,
      itemStyle: {color: 'rgba(0,0,0,0)', borderColor: '#555', borderWidth: 0.9}},
    {type: 'scatter', xAxisIndex: 4, yAxisIndex: 4, data: oddFold, symbol: ASTERISK, symbolSize: [6, 7], silent: true,
      itemStyle: {color: 'rgba(0,0,0,0)', borderColor: '#333', borderWidth: 1}},
    {type: 'scatter', xAxisIndex: 4, yAxisIndex: 4, data: evenFold, symbol: PLUS, symbolSize: 9, silent: true,
      itemStyle: {color: 'rgba(0,0,0,0)', borderColor: '#333', borderWidth: 1}},
    {type: 'line', xAxisIndex: 4, yAxisIndex: 4, data: secondaryModel, symbol: 'none', silent: true,
      lineStyle: {color: '#22ee22', width: 2.5}, z: 5},
    {type: 'line', xAxisIndex: 4, yAxisIndex: 4, data: transitModel, symbol: 'none', silent: true,
      lineStyle: {color: '#ff1010', width: 2.5}, z: 5}
  ],
  graphic: graphic
});
</script>
</body></html>
